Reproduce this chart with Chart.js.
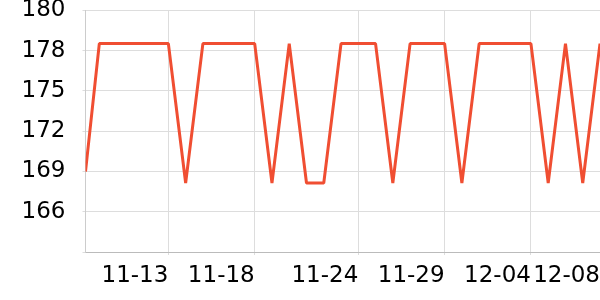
<!DOCTYPE html>
<html>
<head>
<meta charset="utf-8">
<script src="https://cdn.jsdelivr.net/npm/chart.js@4"></script>
<style>
  html, body { margin: 0; padding: 0; background: #fff; }
  #wrap { width: 600px; height: 300px; }
</style>
</head>
<body>
<div id="wrap"><canvas id="weightChart"></canvas></div>
<script>
// x = days since 11-08 (first reading was taken a little after midnight)
const days = [0.2, 1, 2, 3, 4, 5, 6, 7, 8, 9, 10, 11, 12, 13, 14, 15,
              16, 17, 18, 19, 20, 21, 22, 23, 24, 25, 26, 27, 28, 29, 30];
const weights = [169.2, 178.1, 178.1, 178.1, 178.1, 178.1, 168.4, 178.1, 178.1, 178.1, 178.1,
                 168.4, 178.1, 168.4, 168.4, 178.1, 178.1, 178.1, 168.4, 178.1, 178.1, 178.1,
                 168.4, 178.1, 178.1, 178.1, 178.1, 168.4, 178.1, 168.4, 178.1];
const dateTicks = [5, 10, 16, 21, 26, 30];
const dateLabels = ['11-13', '11-18', '11-24', '11-29', '12-04', '12-08'];
const yTicks = [163.6, 166.4, 169.2, 172.0, 174.8, 177.6, 180.4];
const yLabels = ['', '166', '169', '172', '175', '178', '180'];

const font = { family: 'DejaVu Sans', size: 23 };

new Chart(document.getElementById('weightChart'), {
  type: 'line',
  data: {
    datasets: [{
      data: days.map((d, i) => ({ x: d, y: weights[i] })),
      borderColor: '#f04e32',
      borderWidth: 3,
      borderJoinStyle: 'bevel',
      pointRadius: 0,
      tension: 0
    }]
  },
  options: {
    responsive: true,
    maintainAspectRatio: false,
    animation: false,
    layout: { padding: { top: 10.5, left: 0, right: 0, bottom: 0 } },
    plugins: { legend: { display: false }, tooltip: { enabled: false } },
    scales: {
      x: {
        type: 'linear',
        min: days[0],
        max: days[days.length - 1],
        afterBuildTicks: s => { s.ticks = dateTicks.map(v => ({ value: v })); },
        afterFit: s => { s.height = 48; s.paddingLeft = 0; s.paddingRight = 0; },
        grid: { color: '#dddddd', tickLength: 3 },
        border: { color: '#bbbbbb' },
        ticks: {
          align: 'end', maxRotation: 0, autoSkip: false, font, color: '#000', padding: 7,
          callback: (v, i) => dateLabels[i]
        }
      },
      y: {
        min: yTicks[0],
        max: yTicks[yTicks.length - 1],
        afterBuildTicks: s => { s.ticks = yTicks.map(v => ({ value: v })); },
        afterFit: s => { s.width = 85.5; s.paddingTop = 0; s.paddingBottom = 0; },
        grid: { color: '#dddddd', tickLength: 3 },
        border: { color: '#cccccc' },
        ticks: { font, color: '#000', padding: 17, callback: (v, i) => yLabels[i] }
      }
    }
  }
});
</script>
</body>
</html>
